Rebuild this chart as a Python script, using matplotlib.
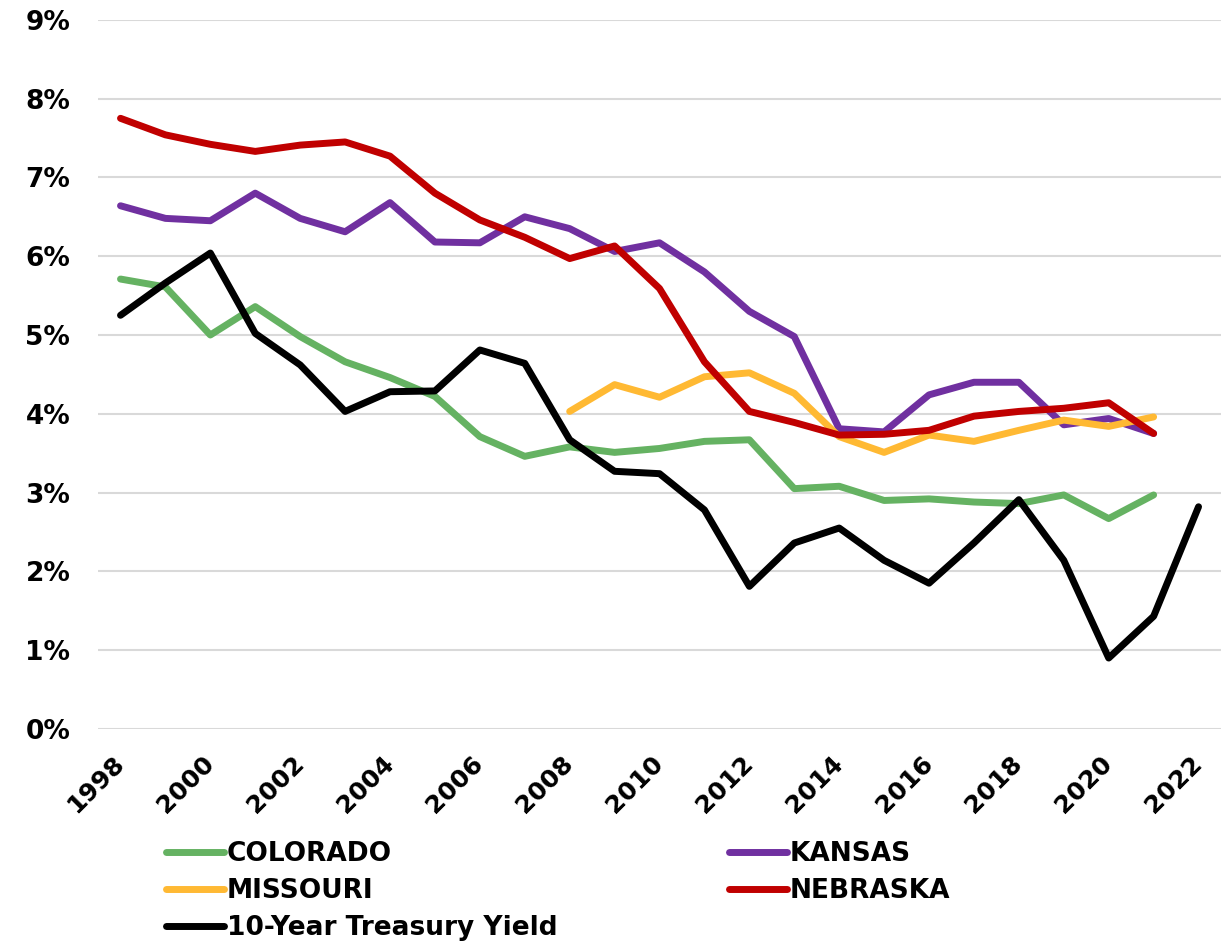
import numpy as np
import matplotlib
matplotlib.use('Agg')
import matplotlib.pyplot as plt
from matplotlib.ticker import FuncFormatter

plt.rcParams['font.family'] = ['DejaVu Sans']
plt.rcParams['font.weight'] = 'bold'

years = list(range(1998, 2023))
tick_years = list(range(1998, 2023, 2))

# rates in percent, None where there is no value
colorado = [5.71, 5.61, 5.00, 5.36, 4.98, 4.66, 4.46, 4.22, 3.71, 3.46, 3.58, 3.51, 3.56,
            3.65, 3.67, 3.05, 3.08, 2.90, 2.92, 2.88, 2.86, 2.97, 2.67, 2.97, None]
kansas = [6.64, 6.48, 6.45, 6.80, 6.48, 6.31, 6.68, 6.18, 6.17, 6.50, 6.35, 6.06, 6.17,
          5.80, 5.30, 4.98, 3.81, 3.77, 4.24, 4.40, 4.40, 3.86, 3.94, 3.75, None]
missouri = [None] * 10 + [4.03, 4.37, 4.21, 4.47, 4.52, 4.26, 3.71, 3.51, 3.73, 3.65,
                          3.79, 3.92, 3.84, 3.96, None]
nebraska = [7.75, 7.54, 7.42, 7.33, 7.41, 7.45, 7.27, 6.80, 6.46, 6.24, 5.97, 6.13, 5.59,
            4.66, 4.03, 3.89, 3.73, 3.74, 3.79, 3.97, 4.03, 4.07, 4.14, 3.75, None]
treasury = [5.25, 5.66, 6.04, 5.02, 4.62, 4.03, 4.28, 4.29, 4.81, 4.64, 3.67, 3.27, 3.24,
            2.78, 1.81, 2.36, 2.55, 2.14, 1.85, 2.36, 2.91, 2.14, 0.90, 1.43, 2.82]


def arr(vals):
    return np.array([np.nan if v is None else v for v in vals], dtype=float)


fig = plt.figure(figsize=(12.21, 9.44), dpi=100)
ax = fig.add_axes([0.0803, 0.2278, 0.9197, 0.979 - 0.2278])

series = [
    ('COLORADO', colorado, '#65B262'),
    ('KANSAS', kansas, '#7030A0'),
    ('MISSOURI', missouri, '#FFB933'),
    ('NEBRASKA', nebraska, '#C00000'),
    ('10-Year Treasury Yield', treasury, '#000000'),
]
handles = {}
for name, vals, color in series:
    h, = ax.plot(years, arr(vals), color=color, lw=5, label=name,
                 solid_capstyle='round', solid_joinstyle='round', zorder=3)
    handles[name] = h

ax.set_xlim(1997.5, 2022.5)
ax.set_ylim(0, 9)
ax.set_yticks(range(0, 10))
ax.yaxis.set_major_formatter(FuncFormatter(lambda v, p: f'{v:.0f}%'))
ax.set_xticks(tick_years)
ax.grid(axis='y', color='#D9D9D9', lw=1.5, zorder=0)
ax.grid(axis='x', visible=False)
for s in ax.spines.values():
    s.set_visible(False)
ax.tick_params(axis='both', length=0)
ax.tick_params(axis='y', pad=20, labelsize=19)
ax.tick_params(axis='x', pad=22, labelsize=18)

for lbl in ax.get_xticklabels():
    lbl.set_rotation(45)
    lbl.set_ha('right')
    lbl.set_va('center')
    lbl.set_rotation_mode('anchor')
    lbl.set_fontweight('bold')
for lbl in ax.get_yticklabels():
    lbl.set_fontweight('bold')

order = ['COLORADO', 'MISSOURI', '10-Year Treasury Yield', 'KANSAS', 'NEBRASKA']
fig.legend([handles[k] for k in order], order, ncol=2, frameon=False,
           loc='upper left', bbox_to_anchor=(0.136, 0.109),
           prop={'size': 19, 'weight': 'bold'}, handlelength=2.2,
           handletextpad=0.1, columnspacing=6.5, labelspacing=0.42,
           borderaxespad=0, borderpad=0)

fig.savefig('out.png', dpi=100)
